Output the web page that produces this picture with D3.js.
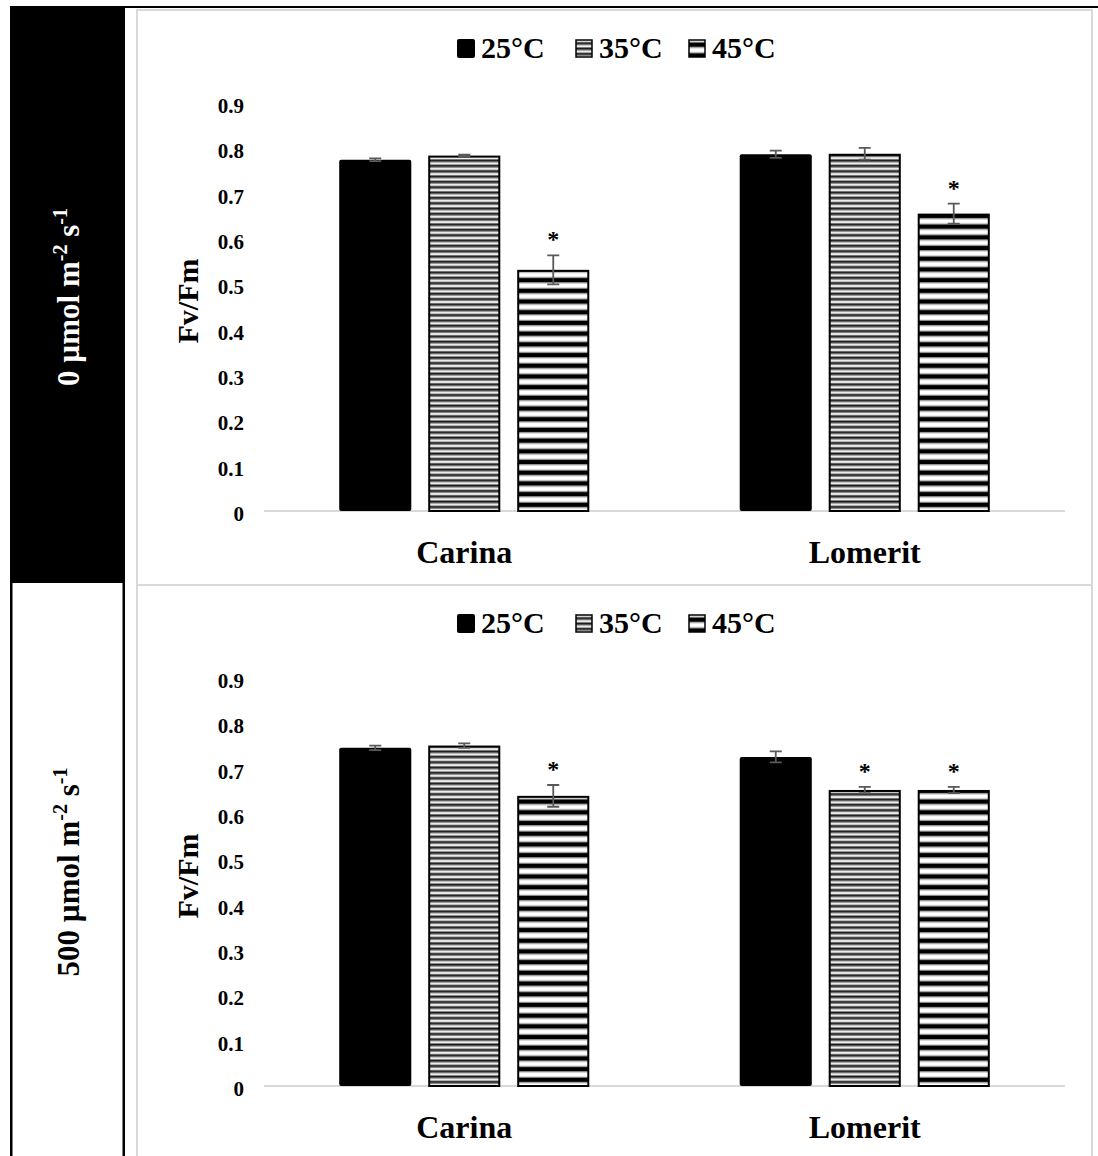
<!DOCTYPE html>
<html>
<head>
<meta charset="utf-8">
<script src="https://cdn.jsdelivr.net/npm/d3@7"></script>
<style>
  body { margin: 0; background: #fff; }
  svg { display: block; font-family: "Liberation Serif", "Times New Roman", serif; font-weight: bold; }
</style>
</head>
<body>
<svg id="chart" width="1098" height="1156"></svg>
<script>
// chart data
let cultivars = ["Carina", "Lomerit"];
let temps = ["25°C", "35°C", "45°C"];
let yTicks = [0, 0.1, 0.2, 0.3, 0.4, 0.5, 0.6, 0.7, 0.8, 0.9];
let lightLabels = ["0", "500"];

// Fv/Fm, rows = cultivar, columns = temperature
let dark = [[0.775, 0.784, 0.532], [0.787, 0.788, 0.656]];
let darkErr = [[0.003, 0.002, 0.032], [0.008, 0.013, 0.022]];
let darkStar = [[false, false, true], [false, false, true]];

let light = [[0.746, 0.751, 0.640], [0.726, 0.653, 0.653]];
let lightErr = [[0.005, 0.005, 0.024], [0.012, 0.007, 0.007]];
let lightStar = [[false, false, true], [false, true, true]];

let svg = d3.select("#chart");
let defs = svg.append("defs");

// narrow horizontal stripes (35°C)
let p35 = defs.append("pattern").attr("id", "p35")
    .attr("patternUnits", "userSpaceOnUse").attr("width", 10).attr("height", 5.33);
p35.append("rect").attr("width", 10).attr("height", 5.33).attr("fill", "#d4d4d4");
p35.append("rect").attr("y", 0).attr("width", 10).attr("height", 1.6).attr("fill", "#1a1a1a");
p35.append("rect").attr("y", 1.6).attr("width", 10).attr("height", 0.9).attr("fill", "#7a7a7a");
p35.append("rect").attr("y", 3.1).attr("width", 10).attr("height", 1.1).attr("fill", "#fff");
p35.append("rect").attr("y", 4.4).attr("width", 10).attr("height", 0.93).attr("fill", "#7a7a7a");

// wide horizontal stripes (45°C)
let p45 = defs.append("pattern").attr("id", "p45")
    .attr("patternUnits", "userSpaceOnUse").attr("width", 10).attr("height", 10.7);
p45.append("rect").attr("width", 10).attr("height", 10.7).attr("fill", "#fff");
p45.append("rect").attr("y", 0).attr("width", 10).attr("height", 4).attr("fill", "#000");
p45.append("rect").attr("y", 4).attr("width", 10).attr("height", 1.2).attr("fill", "#888");
p45.append("rect").attr("y", 9.5).attr("width", 10).attr("height", 1.2).attr("fill", "#888");

let fills = ["#000", "url(#p35)", "url(#p45)"];

// outer table
svg.append("rect").attr("x", 10).attr("y", 6).attr("width", 1088).attr("height", 2).attr("fill", "#000");
svg.append("rect").attr("x", 10).attr("y", 6).attr("width", 115).attr("height", 577).attr("fill", "#000");
svg.append("rect").attr("x", 10).attr("y", 583).attr("width", 2.5).attr("height", 573).attr("fill", "#000");
svg.append("rect").attr("x", 122.5).attr("y", 583).attr("width", 2.5).attr("height", 573).attr("fill", "#000");

function rowLabel(cy, value, color) {
    let t = svg.append("text")
        .attr("transform", "translate(79," + cy + ") rotate(-90)")
        .attr("text-anchor", "middle")
        .attr("fill", color)
        .attr("font-size", 31);
    t.append("tspan").text(value + " µmol m");
    t.append("tspan").attr("font-size", 20).attr("dy", -12).text("-2");
    t.append("tspan").attr("dy", 12).text(" s");
    t.append("tspan").attr("font-size", 20).attr("dy", -12).text("-1");
}
rowLabel(297, lightLabels[0], "#fff");
rowLabel(872, lightLabels[1], "#000");

function drawPanel(off, vals, errs, stars) {
    let g = svg.append("g").attr("transform", "translate(0," + off + ")");

    g.append("rect").attr("x", 137).attr("y", 10).attr("width", 955).attr("height", 600)
        .attr("fill", "#fff").attr("stroke", "#d9d9d9").attr("stroke-width", 2);

    let y = d3.scaleLinear().domain([0, 0.9]).range([511, 103]);
    let x0 = d3.scaleBand().domain(cultivars).range([264, 1065]);
    let x1 = d3.scaleBand().domain(temps).range([0, x0.bandwidth()])
        .paddingInner(0.19).paddingOuter(0.845);

    // y axis labels only
    let yAxis = g.append("g").attr("transform", "translate(264,0)")
        .call(d3.axisLeft(y).tickValues(yTicks).tickSize(0).tickPadding(20)
            .tickFormat(d => d === 0 ? "0" : d3.format(".1f")(d)));
    yAxis.select(".domain").remove();
    yAxis.selectAll("text").attr("font-size", 21).attr("font-family", "Liberation Serif")
        .attr("font-weight", "bold").attr("fill", "#000").attr("dy", "0.45em");

    g.append("line").attr("x1", 264).attr("x2", 1065).attr("y1", y(0)).attr("y2", y(0))
        .attr("stroke", "#d9d9d9").attr("stroke-width", 2);

    let groups = g.selectAll(".grp").data(cultivars).enter().append("g")
        .attr("transform", d => "translate(" + x0(d) + ",0)");

    groups.each(function (c, ci) {
        let gg = d3.select(this);
        temps.forEach((t, ti) => {
            let v = vals[ci][ti], e = errs[ci][ti];
            let bx = x1(t), bw = x1.bandwidth();
            if (ti === 0) {
                gg.append("rect").attr("x", bx).attr("y", y(v)).attr("width", bw)
                    .attr("height", y(0) - y(v)).attr("fill", "#000").attr("rx", 2);
            } else {
                gg.append("rect").attr("x", bx + 1).attr("y", y(v) + 1).attr("width", bw - 2)
                    .attr("height", y(0) - y(v) - 1).attr("fill", fills[ti])
                    .attr("stroke", "#000").attr("stroke-width", 2);
            }
            let cx = bx + bw / 2;
            gg.append("path")
                .attr("d", "M" + (cx - 6) + "," + y(v + e) + "H" + (cx + 6) +
                    "M" + cx + "," + y(v + e) + "V" + y(v - e) +
                    "M" + (cx - 6) + "," + y(v - e) + "H" + (cx + 6))
                .attr("stroke", "#595959").attr("stroke-width", 1.8).attr("fill", "none");
            if (stars[ci][ti]) {
                gg.append("text").attr("x", cx).attr("y", y(v + e) - 8)
                    .attr("text-anchor", "middle").attr("font-size", 24).text("*");
            }
        });
    });

    g.selectAll(".cat").data(cultivars).enter().append("text")
        .attr("x", d => x0(d) + x0.bandwidth() / 2).attr("y", 563)
        .attr("text-anchor", "middle").attr("font-size", 32).text(d => d);

    g.append("text").attr("transform", "translate(198,301) rotate(-90)")
        .attr("text-anchor", "middle").attr("font-size", 30).text("Fv/Fm");

    // legend
    let legX = [457, 575, 688];
    temps.forEach((t, i) => {
        if (i === 0) {
            g.append("rect").attr("x", legX[i]).attr("y", 39).attr("width", 18).attr("height", 19)
                .attr("rx", 2).attr("fill", "#000");
        } else {
            g.append("rect").attr("x", legX[i] + 1).attr("y", 40).attr("width", 16).attr("height", 17)
                .attr("fill", fills[i]).attr("stroke", "#000").attr("stroke-width", 1.5);
        }
        g.append("text").attr("x", legX[i] + 24).attr("y", 58).attr("font-size", 30).text(t);
    });
}

drawPanel(0, dark, darkErr, darkStar);
drawPanel(575, light, lightErr, lightStar);
</script>
</body>
</html>
